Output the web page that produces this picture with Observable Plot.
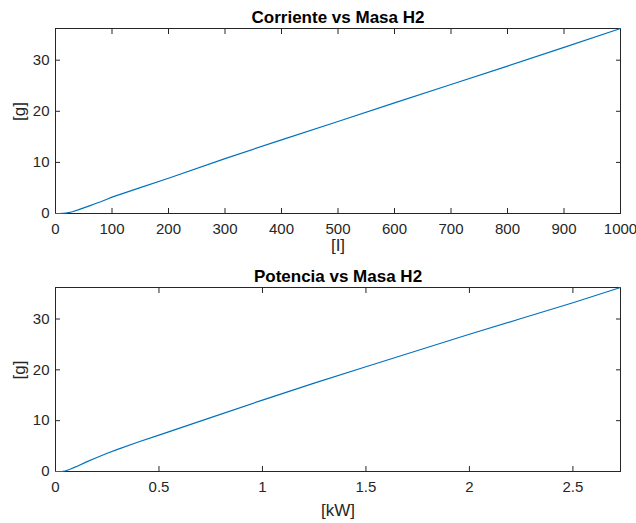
<!DOCTYPE html>
<html>
<head>
<meta charset="utf-8">
<script src="https://cdn.jsdelivr.net/npm/d3@7"></script>
<script src="https://cdn.jsdelivr.net/npm/@observablehq/plot@0.6"></script>
<style>
  html, body { margin: 0; padding: 0; background: #fff; }
  svg { display: block; }
</style>
</head>
<body>
<div id="chart"></div>
<script>
// Top panel: current [I] vs H2 mass [g]
const currentI = [0, 5, 10, 15, 20, 25, 30, 40, 50, 60, 70, 80, 90, 100, 150, 200, 300, 400, 500, 600, 700, 800, 900, 1000];
const massByCurrent = [0, 0, 0.01, 0.05, 0.12, 0.22, 0.35, 0.7, 1.1, 1.5, 1.9, 2.3, 2.75, 3.2, 5.05, 6.9, 10.75, 14.4, 18.0, 21.65, 25.25, 28.85, 32.5, 36.2];

// Bottom panel: power [kW] vs H2 mass [g]
const powerKW = [0, 0.02, 0.035, 0.05, 0.07, 0.1, 0.15, 0.2, 0.25, 0.3, 0.4, 0.5, 0.75, 1.0, 1.25, 1.5, 1.75, 2.0, 2.25, 2.5, 2.73];
const massByPower = [0, 0, 0.02, 0.15, 0.45, 0.95, 1.9, 2.75, 3.6, 4.35, 5.8, 7.15, 10.6, 14.05, 17.4, 20.6, 23.8, 27.0, 30.1, 33.2, 36.2];

const titles = ["Corriente vs Masa H2", "Potencia vs Masa H2"];
const xLabels = ["[I]", "[kW]"];
const yLabel = "[g]";
const xTicksTop = [0, 100, 200, 300, 400, 500, 600, 700, 800, 900, 1000];
const xTicksBottom = [0, 0.5, 1, 1.5, 2, 2.5];
const yTicks = [0, 10, 20, 30];
const xDomains = [[0, 1000], [0, 2.73]];
const yDomain = [0, 36.2];

const FONT = "'Liberation Sans', Arial, Helvetica, sans-serif";
const AXC = "#262626";
const LINE = "#0072BD";
const fmt = d => String(d);

function panel(xs, ys, idx, xTicks, opts) {
  const data = xs.map((x, i) => ({x, y: ys[i]}));
  return Plot.plot({
    width: 636,
    height: opts.height,
    marginTop: opts.marginTop,
    marginBottom: opts.marginBottom,
    marginLeft: 55,
    marginRight: 16,
    style: {fontFamily: FONT, fontSize: "15px", color: AXC, background: "#fff"},
    x: {domain: xDomains[idx], ticks: xTicks},
    y: {domain: yDomain, ticks: yTicks},
    marks: [
      Plot.frame({stroke: AXC, strokeWidth: 1}),
      Plot.axisX({anchor: "bottom", ticks: xTicks, tickSize: -5, tickPadding: 15, tickFormat: fmt, label: null, stroke: AXC, fill: AXC, fontSize: 15}),
      Plot.axisX({anchor: "top", ticks: xTicks, tickSize: -5, tickFormat: () => "", label: null, stroke: AXC}),
      Plot.axisY({anchor: "left", ticks: yTicks, tickSize: -5, tickPadding: 11, tickFormat: fmt, label: null, stroke: AXC, fill: AXC, fontSize: 15}),
      Plot.axisY({anchor: "right", ticks: yTicks, tickSize: -5, tickFormat: () => "", label: null, stroke: AXC}),
      Plot.line(data, {x: "x", y: "y", stroke: LINE, strokeWidth: 1.2}),
      Plot.text([titles[idx]], {frameAnchor: "top", dy: -6, lineAnchor: "bottom", text: d => d, fontWeight: "bold", fontSize: 17, fill: "#000"}),
      Plot.text([xLabels[idx]], {frameAnchor: "bottom", dy: opts.xLabelDy, lineAnchor: "top", text: d => d, fontSize: 17, fill: AXC}),
      Plot.text([yLabel], {frameAnchor: "left", dx: -36, rotate: -90, text: d => d, fontSize: 17, fill: AXC})
    ]
  });
}

const root = document.getElementById("chart");
root.append(panel(currentI, massByCurrent, 0, xTicksTop, {height: 260, marginTop: 28, marginBottom: 47, xLabelDy: 25}));
root.append(panel(powerKW, massByPower, 1, xTicksBottom, {height: 263, marginTop: 27, marginBottom: 52, xLabelDy: 32}));
</script>
</body>
</html>
